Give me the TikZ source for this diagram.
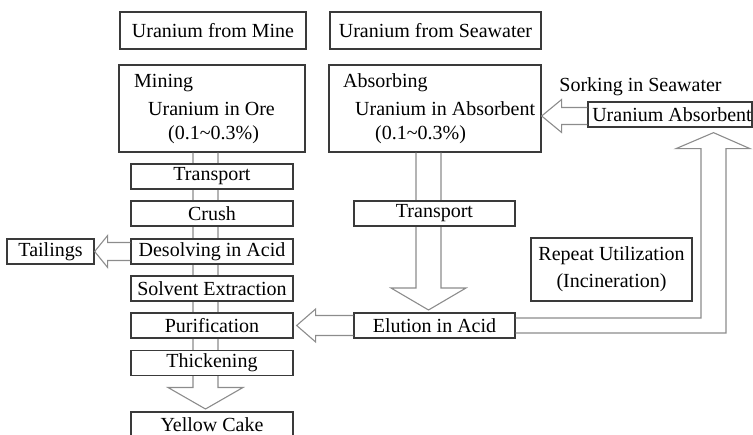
\documentclass[tikz,border=0pt]{standalone}
\usepackage{fontspec}
\setmainfont{Liberation Serif}
\usetikzlibrary{calc}
\definecolor{boxc}{HTML}{3A3A3A}
\definecolor{pipec}{HTML}{8C8C8C}
\begin{document}
\begin{tikzpicture}[x=1pt,y=-1pt,
  box/.style={draw=boxc, line width=1.3pt, fill=white, inner sep=0pt,
    font=\fontsize{20}{27}\selectfont, align=center},
  txt/.style={inner sep=0pt, font=\fontsize{20}{27}\selectfont},
  pipe/.style={draw=pipec, line width=1.1pt, line join=miter}]
\useasboundingbox (0,0) rectangle (753,435);
\clip (0,0) rectangle (753,435);

% header boxes
\node[box, minimum width=186, minimum height=37] (mine) at (213,30.5) {Uranium from Mine};
\node[box, minimum width=211, minimum height=37] (sea) at (435.5,30.5) {Uranium from Seawater};

% big boxes (empty, texts placed separately)
\node[box, minimum width=186, minimum height=87] (mining) at (212,108.5) {};
\node[box, minimum width=212, minimum height=87] (absorb) at (435,108.5) {};

\coordinate (lc) at ($(mining.south)+(-6.5,0)$);
\coordinate (rc) at ($(absorb.south)+(-6.5,0)$);

% left column pipe with head
\path (212,375.5) coordinate (thickS) (212,412) coordinate (yellowN);
\draw[pipe] ($(lc)+(-12.5,0)$) -- ($(lc |- thickS)+(-12.5,12)$) -- ($(lc |- thickS)+(-37.5,12)$)
  -- ($(lc |- yellowN)+(0,-3)$) -- ($(lc |- thickS)+(37.5,12)$) -- ($(lc |- thickS)+(12.5,12)$)
  -- ($(lc)+(12.5,0)$);

% right column pipe with head
\path (434.5,313) coordinate (elutionN);
\draw[pipe] ($(rc)+(-12.5,0)$) -- ($(rc |- elutionN)+(-12.5,-25)$) -- ($(rc |- elutionN)+(-37.5,-25)$)
  -- ($(rc |- elutionN)+(0,-3)$) -- ($(rc |- elutionN)+(37.5,-25)$) -- ($(rc |- elutionN)+(12.5,-25)$)
  -- ($(rc)+(12.5,0)$);

% left column boxes
\node[box, minimum width=162, minimum height=25] (transport1) at (212,176.5) {Transport};
\node[box, minimum width=162, minimum height=25] (crush) at (212,213.5) {Crush};
\node[box, minimum width=162, minimum height=25] (desolve) at (212,251.5) {Desolving in Acid};
\node[box, minimum width=162, minimum height=25] (solvent) at (212,288.5) {Solvent Extraction};
\node[box, minimum width=162, minimum height=25] (purif) at (212,325.5) {Purification};
\node[box, minimum width=162, minimum height=25] (thick) at (212,363) {Thickening};
\node[box, minimum width=162, minimum height=25] (yellow) at (212,424.5) {Yellow Cake};
\node[box, minimum width=87, minimum height=25] (tail) at (50.5,251.5) {Tailings};

% right column boxes
\node[box, minimum width=161, minimum height=25] (transport2) at (434.5,213.5) {Transport};
\node[box, minimum width=161, minimum height=25] (elution) at (434.5,325.5) {Elution in Acid};
\node[box, minimum width=161, minimum height=63] (repeat) at (611.5,269.5) {Repeat Utilization\\(Incineration)};
\node[box, minimum width=164, minimum height=25] (uabs) at (670,114.5) {\hspace*{4pt}Uranium Absorbent};
\node[txt] (sorking) at (640.5,87) {Sorking in Seawater};

% texts inside big boxes
\node[txt, anchor=base west] (mt1) at (134,88) {Mining};
\node[txt, anchor=base west] (mt2) at (148,115.5) {Uranium in Ore};
\node[txt, anchor=base west] (mt3) at (168,140) {(0.1\textasciitilde0.3\%)};
\node[txt, anchor=base west] (at1) at (343,88) {Absorbing};
\node[txt, anchor=base west] (at2) at (355,115.5) {Uranium in Absorbent};
\node[txt, anchor=base west] (at3) at (375,140) {(0.1\textasciitilde0.3\%)};

% tailings arrow
\draw[pipe] ($(desolve.west)+(0,-9)$) -- ($(tail.east)+(13,-9)$) -- ($(tail.east)+(13,-16)$)
  -- (tail.east) -- ($(tail.east)+(13,16)$) -- ($(tail.east)+(13,9)$) -- ($(desolve.west)+(0,9)$);

% elution -> purification arrow
\draw[pipe] ($(elution.west)+(0,-10)$) -- ($(purif.east)+(22,-10)$) -- ($(purif.east)+(22,-16.5)$)
  -- ($(purif.east)+(3,0)$) -- ($(purif.east)+(22,16.5)$) -- ($(purif.east)+(22,10)$) -- ($(elution.west)+(0,10)$);

% absorbent -> absorbing arrow
\coordinate (at) at ($(absorb.east |- uabs.west)+(0,1.5)$);
\draw[pipe] ($(uabs.west)+(0,-7)$) -- ($(at)+(20,-8.5)$) -- ($(at)+(20,-16.5)$)
  -- (at) -- ($(at)+(20,16.5)$) -- ($(at)+(20,8.5)$) -- ($(uabs.west)+(0,10)$);

% return path elution -> uranium absorbent
\coordinate (uc) at ($(uabs.south)+(43.5,0)$);
\draw[pipe] ($(elution.east)+(0,-7.5)$) -- ($(uc |- elution.east)+(-12.5,-7.5)$)
  -- ($(uc |- uabs.south)+(-12.5,21)$) -- ($(uc |- uabs.south)+(-37.5,21)$)
  -- ($(uc |- uabs.south)+(0,5)$) -- ($(uc |- uabs.south)+(36.5,21)$)
  -- ($(uc |- uabs.south)+(12.5,21)$) -- ($(uc |- elution.east)+(12.5,7.5)$)
  -- ($(elution.east)+(0,7.5)$);
\end{tikzpicture}
\end{document}
